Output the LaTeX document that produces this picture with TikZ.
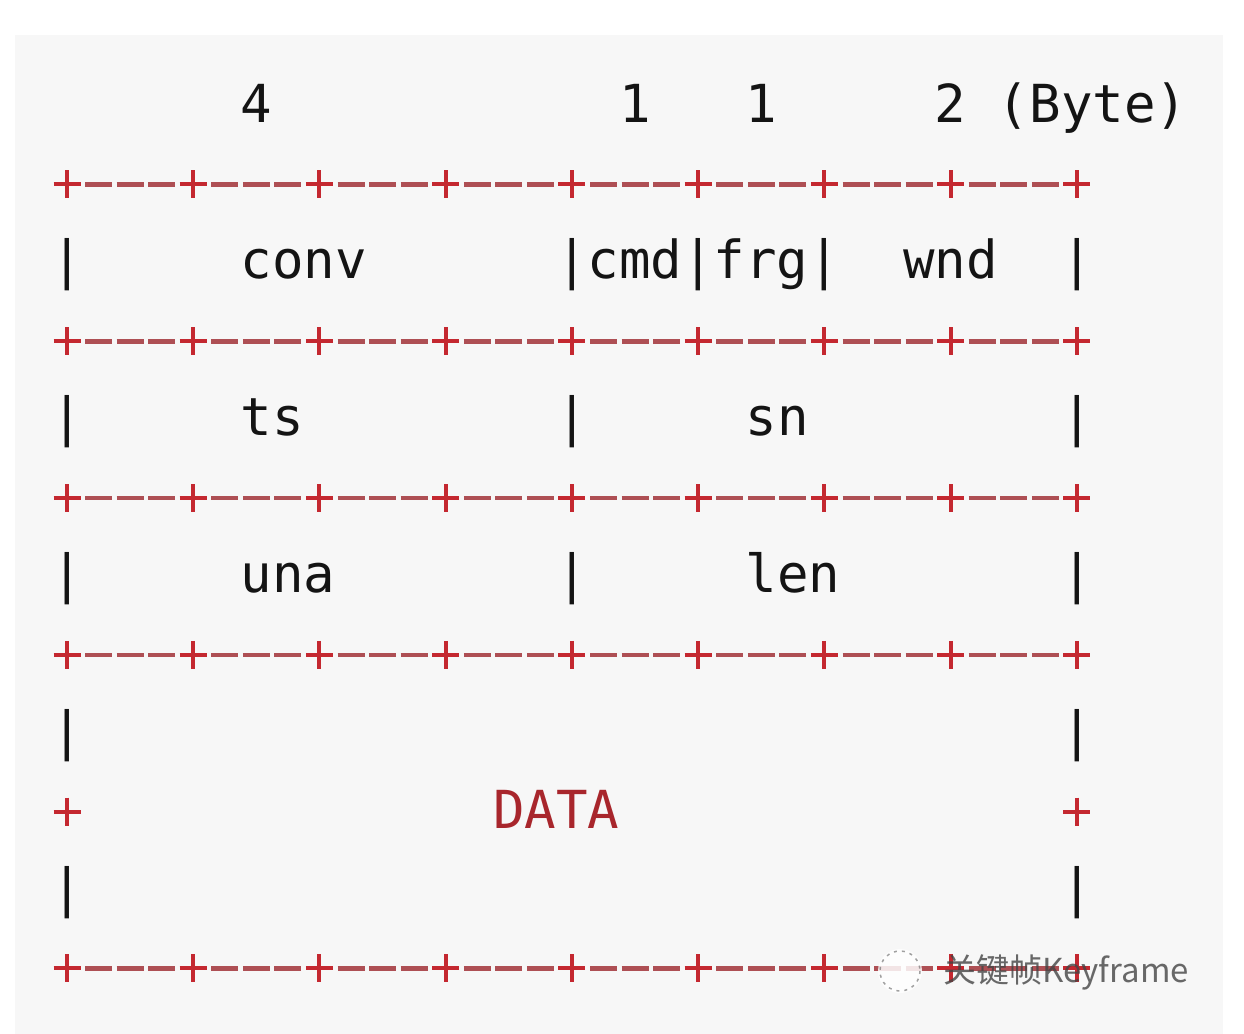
\documentclass[tikz,border=0pt]{standalone}
\usepackage{fontspec}
\newfontfamily\monof{DejaVu Sans Mono}
\newfontfamily\cjkf{Noto Sans CJK SC}
\definecolor{bggray}{HTML}{F7F7F7}
\definecolor{plusred}{HTML}{C42830}
\definecolor{dashred}{HTML}{AE4F54}
\definecolor{datared}{HTML}{A8262C}
\definecolor{txt}{HTML}{141414}
\definecolor{wmgray}{HTML}{444444}
\begin{document}
\begin{tikzpicture}[x=1bp,y=-1bp,
  cell/.style={anchor=base west,inner sep=0pt,outer sep=0pt,
    font=\monof\fontsize{52.4bp}{60bp}\selectfont,text=txt},
  datacell/.style={cell,text=datared},
  dashseg/.style={draw=dashred,line width=4.6bp},
  plusmark/.style={draw=plusred,line width=4bp},
  wmtext/.style={anchor=west,inner sep=0pt,font=\cjkf\fontsize{33bp}{36bp}\selectfont,text=wmgray,text opacity=0.8}]
\useasboundingbox (0,0) rectangle (1244,1034);
\fill[white] (0,0) rectangle (1244,1034);
\fill[bggray] (15,35) rectangle (1223,1034);
% border rows
\foreach \yy in {184.4,341.2,498,654.8,968.4}{
  \foreach \s in {0,...,7}{
    \foreach \d in {1,2,3}{
      \draw[dashseg] ({67+31.56*(4*\s+\d)-13.5},\yy) -- ({67+31.56*(4*\s+\d)+13.5},\yy);
    }
  }
  \foreach \c in {0,4,...,32}{
    \draw[plusmark] ({67+31.56*\c-13.5},\yy) -- ({67+31.56*\c+13.5},\yy)
                    ({67+31.56*\c},{\yy-14}) -- ({67+31.56*\c},{\yy+14});
  }
}
% DATA row pluses
\foreach \c in {0,32}{
  \draw[plusmark] ({67+31.56*\c-13.5},811.6) -- ({67+31.56*\c+13.5},811.6)
                  ({67+31.56*\c},{811.6-14}) -- ({67+31.56*\c},{811.6+14});
}
% header
\node[cell] (h4) at ({51.2+31.56*6},122) {4};
\node[cell] (h1a) at ({51.2+31.56*18},122) {1};
\node[cell] (h1b) at ({51.2+31.56*22},122) {1};
\node[cell] (h2) at ({51.2+31.56*28},122) {2 (Byte)};
% row conv
\node[cell] (p20) at ({51.2+31.56*0},278.8) {|};
\node[cell] (conv) at ({51.2+31.56*6},278.8) {conv};
\node[cell] (cmdfrg) at ({51.2+31.56*16},278.8) {|cmd|frg|};
\node[cell] (wnd) at ({51.2+31.56*27},278.8) {wnd};
\node[cell] (p232) at ({51.2+31.56*32},278.8) {|};
% row ts
\node[cell] (p40) at ({51.2+31.56*0},435.6) {|};
\node[cell] (ts) at ({51.2+31.56*6},435.6) {ts};
\node[cell] (p416) at ({51.2+31.56*16},435.6) {|};
\node[cell] (sn) at ({51.2+31.56*22},435.6) {sn};
\node[cell] (p432) at ({51.2+31.56*32},435.6) {|};
% row una
\node[cell] (p60) at ({51.2+31.56*0},592.4) {|};
\node[cell] (una) at ({51.2+31.56*6},592.4) {una};
\node[cell] (p616) at ({51.2+31.56*16},592.4) {|};
\node[cell] (len) at ({51.2+31.56*22},592.4) {len};
\node[cell] (p632) at ({51.2+31.56*32},592.4) {|};
% data rows
\node[cell] (p80) at ({51.2+31.56*0},749.2) {|};
\node[cell] (p832) at ({51.2+31.56*32},749.2) {|};
\node[datacell] (data) at ({51.2+31.56*14},828.6) {DATA};
\node[cell] (p100) at ({51.2+31.56*0},906) {|};
\node[cell] (p1032) at ({51.2+31.56*32},906) {|};
% watermark
\fill[white,opacity=0.85] (900,971) circle (22);
\draw[wmgray,opacity=0.5,line width=1.5bp,dash pattern=on 3bp off 5bp] (900,971) circle (20);
\node[wmtext] (wm) at (943,972) {关键帧Keyframe};
\end{tikzpicture}
\end{document}
